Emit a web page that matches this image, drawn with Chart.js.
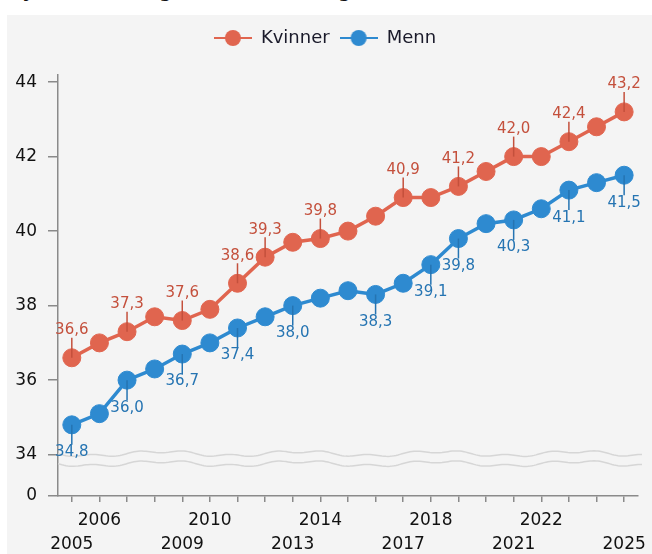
<!DOCTYPE html>
<html>
<head>
<meta charset="utf-8">
<script src="https://cdn.jsdelivr.net/npm/chart.js@4.4.1/dist/chart.umd.min.js"></script>
<style>
  body { margin: 0; background: #fff; width: 652px; height: 554px; overflow: hidden; position: relative; font-family: "DejaVu Sans", sans-serif; }
  #title { position: absolute; left: 10px; top: -19px; font-size: 18px; line-height: 20px; font-weight: bold; color: #111; white-space: nowrap; }
  #panel { position: absolute; left: 7px; top: 15px; width: 645px; height: 539px; background: #f4f4f4; }
</style>
</head>
<body>
<div id="title">Gjennomsnittlig alder. Kvinner og menn</div>
<div id="panel"><canvas id="ageChart" width="645" height="539"></canvas></div>
<script>
// Data
const years = [2005, 2006, 2007, 2008, 2009, 2010, 2011, 2012, 2013, 2014, 2015,
               2016, 2017, 2018, 2019, 2020, 2021, 2022, 2023, 2024, 2025];
const kvinner = [36.6, 37.0, 37.3, 37.7, 37.6, 37.9, 38.6, 39.3, 39.7, 39.8, 40.0,
                 40.4, 40.9, 40.9, 41.2, 41.6, 42.0, 42.0, 42.4, 42.8, 43.2];
const menn = [34.8, 35.1, 36.0, 36.3, 36.7, 37.0, 37.4, 37.7, 38.0, 38.2, 38.4,
              38.3, 38.6, 39.1, 39.8, 40.2, 40.3, 40.6, 41.1, 41.3, 41.5];
const kvinnerLabelYears = [2005, 2007, 2009, 2011, 2012, 2014, 2017, 2019, 2021, 2023, 2025];
const mennLabelYears = [2005, 2007, 2009, 2011, 2013, 2016, 2018, 2019, 2021, 2023, 2025];
const yTicks = [34, 36, 38, 40, 42, 44];
const xTopRow = [2006, 2010, 2014, 2018, 2022];
const xBottomRow = [2005, 2009, 2013, 2017, 2021, 2025];

const RED = '#e0654f', RED_TEXT = '#c4503c';
const BLUE = '#2e8ad0', BLUE_TEXT = '#2574b2';
const FONT = '"DejaVu Sans", sans-serif';

// broken axis: bottom of the scale stands for 0
const Y_ZERO = 32.89;
const Y_TOP = 44.19;

// legend marker: line with a circle
function legendMarker(color) {
  const c = document.createElement('canvas');
  c.width = 38; c.height = 18;
  const g = c.getContext('2d');
  g.strokeStyle = color; g.lineWidth = 2;
  g.beginPath(); g.moveTo(0, 9); g.lineTo(38, 9); g.stroke();
  g.fillStyle = color;
  g.beginPath(); g.arc(19, 9, 8, 0, Math.PI * 2); g.fill();
  return c;
}
const markers = [legendMarker(RED), legendMarker(BLUE)];

const fmt = v => v.toFixed(1).replace('.', ',');

// value labels with short leader lines
const leaderLabels = {
  id: 'leaderLabels',
  afterDatasetsDraw(chart) {
    const ctx = chart.ctx;
    chart.data.datasets.forEach((ds, di) => {
      const meta = chart.getDatasetMeta(di);
      const pick = di === 0 ? kvinnerLabelYears : mennLabelYears;
      const dir = di === 0 ? -1 : 1;
      const col = di === 0 ? RED_TEXT : BLUE_TEXT;
      meta.data.forEach((pt, i) => {
        if (!pick.includes(years[i])) return;
        ctx.save();
        ctx.strokeStyle = col;
        ctx.lineWidth = 1.5;
        ctx.beginPath();
        ctx.moveTo(pt.x, pt.y);
        ctx.lineTo(pt.x, pt.y + dir * 20);
        ctx.stroke();
        ctx.fillStyle = col;
        ctx.font = '15px ' + FONT;
        ctx.textAlign = 'center';
        ctx.textBaseline = dir < 0 ? 'bottom' : 'top';
        ctx.fillText(fmt(ds.data[i]), pt.x, pt.y + dir * 20);
        ctx.restore();
      });
    });
  }
};

// wavy lines marking the axis break
const axisBreak = {
  id: 'axisBreak',
  beforeDatasetsDraw(chart) {
    const ctx = chart.ctx;
    const area = chart.chartArea;
    const y34 = chart.scales.y.getPixelForValue(34);
    ctx.save();
    ctx.strokeStyle = '#d6d6d6';
    ctx.lineWidth = 1.5;
    [-1, 9].forEach(off => {
      ctx.beginPath();
      for (let x = area.left; x <= area.right + 6; x += 2) {
        const t = x - area.left;
        const y = y34 + off + 2.2 * Math.sin(t / 22) + 1.4 * Math.sin(t / 7.3);
        if (x === area.left) ctx.moveTo(x, y); else ctx.lineTo(x, y);
      }
      ctx.stroke();
    });
    ctx.restore();
  }
};

new Chart(document.getElementById('ageChart'), {
  type: 'line',
  data: {
    labels: years,
    datasets: [
      {
        label: 'Kvinner',
        data: kvinner,
        borderColor: RED,
        backgroundColor: RED,
        borderWidth: 3.5,
        pointRadius: 9,
        pointHoverRadius: 9,
        pointBorderWidth: 1,
        pointBorderColor: RED,
        pointBackgroundColor: RED
      },
      {
        label: 'Menn',
        data: menn,
        borderColor: BLUE,
        backgroundColor: BLUE,
        borderWidth: 3.5,
        pointRadius: 9,
        pointHoverRadius: 9,
        pointBorderWidth: 1,
        pointBorderColor: BLUE,
        pointBackgroundColor: BLUE
      }
    ]
  },
  options: {
    responsive: false,
    animation: false,
    layout: { padding: { left: 0, right: 9, top: 4, bottom: 0 } },
    plugins: {
      tooltip: { enabled: false },
      legend: {
        position: 'top',
        labels: {
          usePointStyle: true,
          pointStyleWidth: 38,
          padding: 10,
          color: '#1a1a2a',
          font: { family: FONT, size: 18 },
          generateLabels(chart) {
            const items = Chart.defaults.plugins.legend.labels.generateLabels(chart);
            items.forEach((it, i) => { it.pointStyle = markers[i]; });
            return items;
          }
        }
      },
      // empty spacer under the legend
      subtitle: { display: true, text: '', weight: 500, padding: 0, font: { size: 18, lineHeight: 1 } }
    },
    scales: {
      x: {
        type: 'category',
        offset: true,
        afterFit(s) { s.height = 58; },
        border: { color: '#8a8a8a', width: 1.5 },
        grid: { drawOnChartArea: false, tickLength: 6, color: '#8a8a8a', lineWidth: 1.5 },
        ticks: {
          autoSkip: false,
          maxRotation: 0,
          padding: 6,
          color: '#111',
          font: { family: FONT, size: 17, lineHeight: 1.45 },
          callback(val, idx) {
            const yr = years[idx];
            if (xTopRow.includes(yr)) return String(yr);
            if (xBottomRow.includes(yr)) return ['', String(yr)];
            return '';
          }
        }
      },
      y: {
        min: Y_ZERO,
        max: Y_TOP,
        afterFit(s) { s.width = 51; },
        afterBuildTicks(s) {
          s.ticks = [Y_ZERO, ...yTicks].map(v => ({ value: v }));
        },
        border: { color: '#8a8a8a', width: 1.5 },
        grid: { drawOnChartArea: false, tickLength: 10, color: '#8a8a8a', lineWidth: 1.5 },
        ticks: {
          padding: 11,
          color: '#111',
          font: { family: FONT, size: 17 },
          callback(v) { return v === Y_ZERO ? '0' : v; }
        }
      }
    }
  },
  plugins: [axisBreak, leaderLabels]
});
</script>
</body>
</html>
